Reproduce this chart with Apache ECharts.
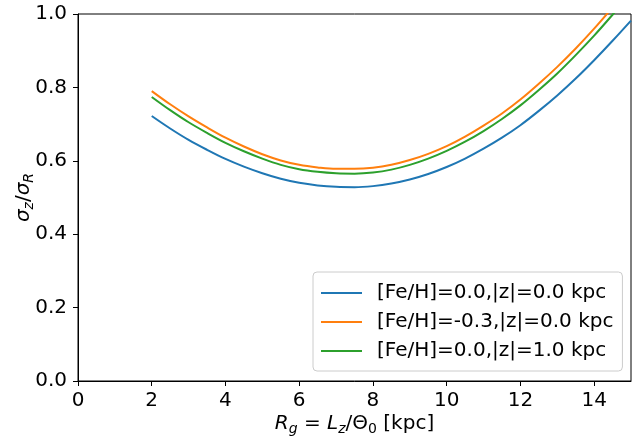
<!DOCTYPE html>
<html>
<head>
<meta charset="utf-8">
<script src="https://cdn.jsdelivr.net/npm/echarts@6/dist/echarts.min.js"></script>
<style>
html,body{margin:0;padding:0;background:#fff;}
#chart{width:638px;height:436px;}
</style>
</head>
<body>
<div id="chart"></div>
<script>
// Data
var xValues = [2.0, 2.5, 3.0, 3.5, 4.0, 4.5, 5.0, 5.5, 6.0, 6.5, 7.0, 7.5, 8.0, 8.5, 9.0, 9.5, 10.0, 10.5, 11.0, 11.5, 12.0, 12.5, 13.0, 13.5, 14.0, 14.5, 15.0];
var seriesNames = ['[Fe/H]=0.0,|z|=0.0 kpc', '[Fe/H]=-0.3,|z|=0.0 kpc', '[Fe/H]=0.0,|z|=1.0 kpc'];
var blueValues = [0.722, 0.688, 0.657, 0.630, 0.605, 0.584, 0.566, 0.551, 0.540, 0.533, 0.529, 0.528, 0.531, 0.538, 0.549, 0.564, 0.583, 0.606, 0.633, 0.663, 0.697, 0.736, 0.778, 0.824, 0.874, 0.927, 0.982];
var orangeValues = [0.790, 0.754, 0.721, 0.691, 0.663, 0.639, 0.618, 0.601, 0.589, 0.582, 0.578, 0.578, 0.581, 0.589, 0.602, 0.619, 0.640, 0.666, 0.696, 0.729, 0.767, 0.810, 0.856, 0.906, 0.960, 1.018, 1.078];
var greenValues = [0.774, 0.738, 0.705, 0.676, 0.649, 0.626, 0.606, 0.589, 0.577, 0.570, 0.566, 0.565, 0.568, 0.576, 0.589, 0.606, 0.627, 0.652, 0.681, 0.714, 0.751, 0.793, 0.838, 0.888, 0.941, 0.998, 1.057];
var xTicks = [0, 2, 4, 6, 8, 10, 12, 14];
var yTicks = [0.0, 0.2, 0.4, 0.6, 0.8, 1.0];

var colors = ['#1f77b4', '#ff7f0e', '#2ca02c'];
var FONT = 'DejaVu Sans';

function pairs(ys) {
  return xValues.map(function (x, i) { return [x, ys[i]]; });
}

var chart = echarts.init(document.getElementById('chart'), null, {renderer: 'canvas'});
var allSeries = [blueValues, orangeValues, greenValues].map(function (vals, i) {
  return {
    name: seriesNames[i],
    type: 'line',
    data: pairs(vals),
    showSymbol: false,
    symbol: 'none',
    smooth: 0.35,
    clip: true,
    lineStyle: {color: colors[i], width: 2},
    itemStyle: {color: colors[i]}
  };
});

var subStyle = {fontFamily: FONT, fontSize: 14, lineHeight: 12, verticalAlign: 'bottom', color: '#000'};
var option = {
  animation: false,
  backgroundColor: '#fff',
  grid: {left: 78, right: 7, top: 14, bottom: 55, containLabel: false, outerBoundsMode: 'none',
    show: true, borderColor: '#000', borderWidth: 1, backgroundColor: 'transparent'},
  xAxis: {
    type: 'value',
    min: 0, max: 15, interval: 2,
    splitLine: {show: false},
    axisLine: {show: true, onZero: false, lineStyle: {color: '#000', width: 1}},
    axisTick: {show: true, length: 5, inside: false, lineStyle: {color: '#000', width: 1},
      customValues: xTicks},
    axisLabel: {
      fontFamily: FONT, fontSize: 20, color: '#000', margin: 10,
      customValues: xTicks,
      formatter: function (v) { return xTicks.indexOf(v) >= 0 ? String(v) : ''; }
    },
    name: '{i|R}{subi|g}{n| = }{i|L}{subi|z}{n|/Θ}{sub|0}{n| [kpc]}',
    nameLocation: 'middle',
    nameMoveOverlap: false,
    nameGap: 30,
    nameTextStyle: {
      fontFamily: FONT, fontSize: 20, color: '#000',
      rich: {
        i: {fontFamily: FONT, fontSize: 20, fontStyle: 'italic', lineHeight: 25, color: '#000'},
        n: {fontFamily: FONT, fontSize: 20, lineHeight: 25, color: '#000'},
        sub: subStyle,
        subi: Object.assign({}, subStyle, {fontStyle: 'italic'})
      }
    }
  },
  yAxis: {
    type: 'value',
    min: 0, max: 1, interval: 0.2,
    splitLine: {show: false},
    axisLine: {show: true, onZero: false, lineStyle: {color: '#000', width: 1}},
    axisTick: {show: true, length: 5, inside: false, lineStyle: {color: '#000', width: 1},
      customValues: yTicks},
    axisLabel: {
      fontFamily: FONT, fontSize: 20, color: '#000', margin: 11,
      customValues: yTicks,
      formatter: function (v) { return Number(v).toFixed(1); }
    },
    name: '{i|σ}{subi|z}{n|/}{i|σ}{subi|R}',
    nameLocation: 'middle',
    nameMoveOverlap: false,
    nameGap: 42,
    nameTextStyle: {
      fontFamily: FONT, fontSize: 20, color: '#000',
      rich: {
        i: {fontFamily: FONT, fontSize: 20, fontStyle: 'italic', lineHeight: 25, color: '#000'},
        n: {fontFamily: FONT, fontSize: 20, lineHeight: 25, color: '#000'},
        subi: Object.assign({}, subStyle, {fontStyle: 'italic'})
      }
    }
  },
  legend: {
    orient: 'vertical',
    left: 313, top: 272,
    padding: [11, 9, 10, 8],
    itemWidth: 41,
    itemHeight: 2,
    itemGap: 9,
    icon: 'rect',
    data: seriesNames,
    textStyle: {fontFamily: FONT, fontSize: 20, color: '#000', lineHeight: 20, padding: [0, 0, 0, 10]},
    backgroundColor: 'rgba(255,255,255,0.8)',
    borderColor: '#cccccc',
    borderWidth: 1,
    borderRadius: 4
  },
  series: allSeries
};
chart.setOption(option);
</script>
</body>
</html>
